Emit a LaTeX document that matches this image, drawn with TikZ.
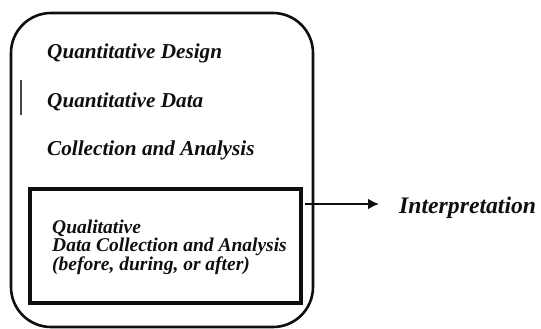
\documentclass[tikz,border=0pt]{standalone}
\usepackage{fontspec}
\setmainfont{Liberation Serif}
\usepackage{tikz}
\usetikzlibrary{arrows.meta}
\usetikzlibrary{positioning}
\definecolor{ink}{RGB}{15, 15, 15}
\definecolor{slate}{RGB}{70, 70, 70}

\tikzset{
  phase/.style   ={font=\bfseries\itshape\fontsize{21.2}{25}\selectfont, anchor=base west, inner sep=0pt, text=ink},
  subphase/.style={font=\bfseries\itshape\fontsize{19.5}{16.5}\selectfont, anchor=west, inner sep=0pt, align=left, text=ink},
}

\begin{document}
\begin{tikzpicture}[x=1pt, y=-1pt]
            \useasboundingbox (0,0) rectangle (541,329);
            % embedding frame and the nested qualitative strand
            \node[draw=ink, line width=2.6pt, rounded corners=40pt, minimum width=302pt, minimum height=314pt] (quant) at (162.0, 170.0) {};
            \node[draw=ink, line width=3.2pt,                       minimum width=271pt, minimum height=114pt] (qual)  at (165.5, 246.0) {};
            \draw[slate, line width=1.3pt]                                              ( 21.0,  80.0) -- ( 21.0, 115.0);
            % labels
            \node[phase]    (design)  at ( 47.0,  59.0) {Quantitative Design};
            \node[phase]    (data)    at ( 47.0, 107.0) {Quantitative Data};
            \node[phase]    (collect) at ( 47.0, 155.0) {Collection and Analysis};
            \node[subphase] (strand)  at ( 52.0, 247.0) {Qualitative\\Data Collection and Analysis\\(before, during, or after)};
            \node[phase, font=\bfseries\itshape\fontsize{23.7}{28}\selectfont]
                            (interp)  at (399.0, 213.0) {Interpretation};
            % hand-off to interpretation
            \coordinate (tap) at (305.0, 204.0);
            \coordinate (tip) at (379.0, 204.0);
            \draw[ink, line width=2.3pt, -{Latex[length=11pt, width=11pt]}] (tap) -- (tip);
\end{tikzpicture}
\end{document}
